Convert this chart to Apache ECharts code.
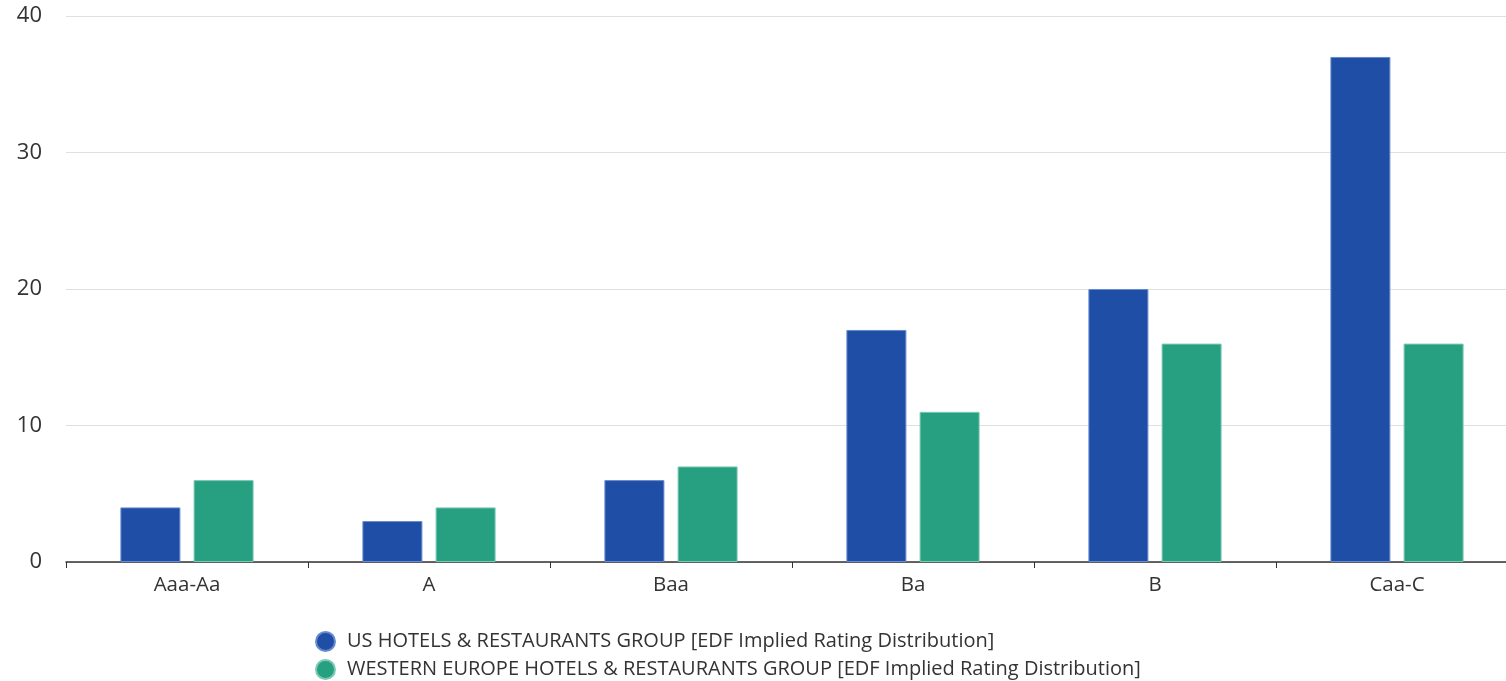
<!DOCTYPE html>
<html><head><meta charset="utf-8">
<script src="https://cdn.jsdelivr.net/npm/echarts@6/dist/echarts.min.js"></script>
<style>html,body{margin:0;padding:0;background:#fff;overflow:hidden}#c{width:1518px;height:681px}</style>
</head><body><div id="c"></div>
<script>
var categories = ['Aaa-Aa','A','Baa','Ba','B','Caa-C'];
var usValues = [4,3,6,17,20,37];
var weValues = [6,4,7,11,16,16];
var seriesNames = ['US HOTELS & RESTAURANTS GROUP [EDF Implied Rating Distribution]','WESTERN EUROPE HOTELS & RESTAURANTS GROUP [EDF Implied Rating Distribution]'];
var font = '"Open Sans", "Noto Sans", sans-serif';
var legendText = {fontSize:20,color:'#333',fontFamily:font,padding:[0,0,0,7]};
var chart = echarts.init(document.getElementById('c'));
chart.setOption({
  animation:false,
  textStyle:{fontFamily:font},
  grid:{left:66,right:0,top:16,bottom:119,containLabel:false},
  legend:[
    {left:315,top:631,itemWidth:19,itemHeight:19,icon:'circle',padding:0,textStyle:legendText,data:[seriesNames[0]]},
    {left:315,top:659,itemWidth:19,itemHeight:19,icon:'circle',padding:0,textStyle:legendText,data:[seriesNames[1]]}
  ],
  xAxis:{type:'category',data:categories,
    axisLine:{lineStyle:{color:'#333',width:1.5}},
    axisTick:{show:true,length:6,lineStyle:{color:'#333'}},
    axisLabel:{fontSize:20.5,color:'#333',margin:13,fontFamily:font}},
  yAxis:{type:'value',min:0,max:40,interval:10,
    axisLabel:{fontSize:22,color:'#333',margin:24,fontFamily:font},
    splitLine:{lineStyle:{color:'#e0e0e0'}},axisLine:{show:false},axisTick:{show:false}},
  series:[
    {name:seriesNames[0],type:'bar',data:usValues,barWidth:60,barGap:'22%',
     itemStyle:{color:'#1f4ea6',borderColor:'#6a8ad0',borderWidth:1}},
    {name:seriesNames[1],type:'bar',data:weValues,barWidth:60,barGap:'22%',
     itemStyle:{color:'#27a081',borderColor:'#7cc9b4',borderWidth:1}}
  ]
});
</script></body></html>
